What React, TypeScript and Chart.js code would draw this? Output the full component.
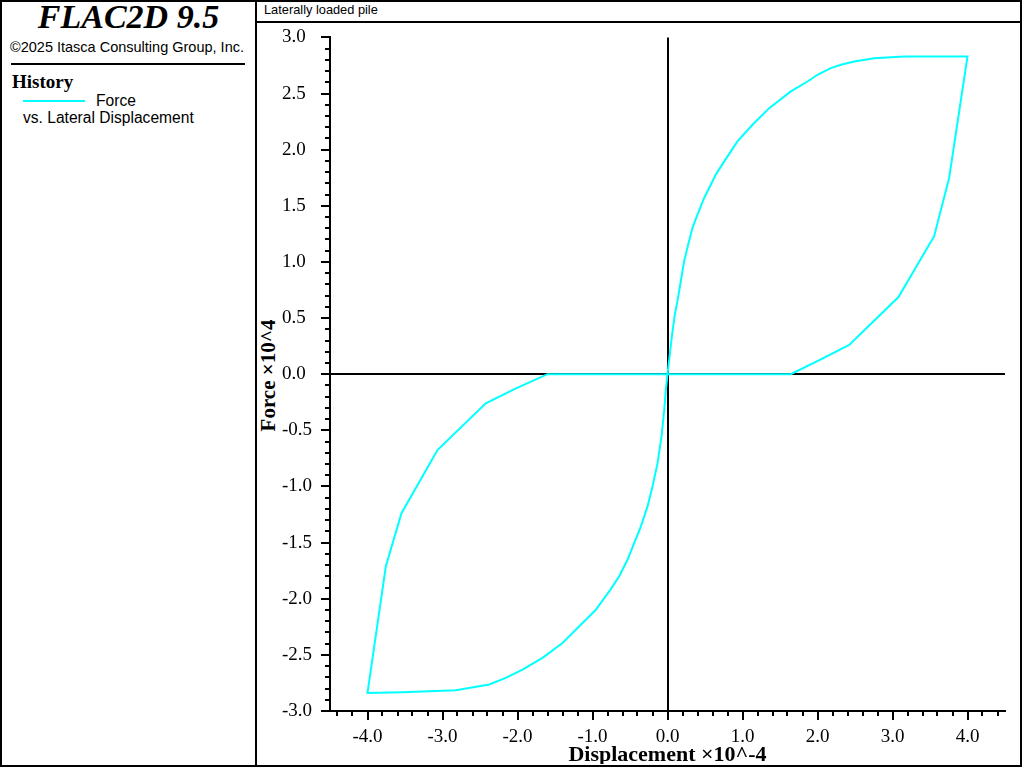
import React, { useEffect, useRef } from "react";
import { Chart, registerables } from "chart.js";

Chart.register(...registerables);

const SERIF = "'Liberation Serif', 'Times New Roman', Times, serif";
const SANS = "'Liberation Sans', Arial, sans-serif";
const CYAN = "#00FFFF";

Chart.defaults.font.family = SERIF;
Chart.defaults.color = "#000";

// Lateral displacement (x 10^-4) and force (x 10^4), in path order
const displacement = [
  0, 0.031, 0.062, 0.098, 0.133, 0.178, 0.222, 0.276, 0.333, 0.4, 0.489, 0.6, 0.644, 0.756, 0.933, 1.133,
  1.356, 1.644, 1.867, 2.0, 2.178, 2.311, 2.489, 2.755, 3.155, 4.0,
  3.755, 3.555, 3.08, 2.422, 2.044, 1.644,
  0,
  -0.022, -0.044, -0.08, -0.133, -0.2, -0.267, -0.356, -0.444, -0.533, -0.644, -0.756, -0.956, -1.133, -1.4,
  -1.667, -1.933, -2.156, -2.378, -2.822, -3.533, -4.0,
  -3.756, -3.547, -3.067, -2.423, -2.02, -1.6,
  0,
];
const force = [
  0, 0.178, 0.356, 0.533, 0.652, 0.83, 1.007, 1.156, 1.304, 1.422, 1.57, 1.719, 1.778, 1.896, 2.074, 2.222,
  2.37, 2.519, 2.607, 2.667, 2.726, 2.756, 2.785, 2.815, 2.83, 2.83,
  1.748, 1.229, 0.687, 0.26, 0.133, 0,
  0,
  -0.142, -0.32, -0.557, -0.794, -1.0, -1.18, -1.357, -1.505, -1.653, -1.8, -1.914, -2.098, -2.216, -2.394,
  -2.527, -2.631, -2.705, -2.764, -2.815, -2.833, -2.84,
  -1.713, -1.238, -0.676, -0.26, -0.127, 0,
  0,
];

const xTickValues = [-4, -3, -2, -1, 0, 1, 2, 3, 4];
const yTickValues = [-3, -2.5, -2, -1.5, -1, -0.5, 0, 0.5, 1, 1.5, 2, 2.5, 3];
const xRange = [-4.5, 4.5];
const yRange = [-3, 3];

const chartTitle = "Laterally loaded pile";
const xTitle = "Displacement \u00d710^-4";
const yTitle = "Force \u00d710^4";
const seriesName = "Force";
const seriesSub = "vs. Lateral Displacement";

const axisDecor = {
  id: "axisDecor",
  beforeDatasetsDraw(chart: any) {
    const { ctx, chartArea, scales } = chart;
    const x0 = Math.round(scales.x.getPixelForValue(0));
    const y0 = Math.round(scales.y.getPixelForValue(0));
    ctx.save();
    ctx.strokeStyle = "#000";
    ctx.lineWidth = 2;
    ctx.beginPath();
    ctx.moveTo(x0, chartArea.top);
    ctx.lineTo(x0, chartArea.bottom);
    ctx.moveTo(chartArea.left, y0);
    ctx.lineTo(chartArea.right, y0);
    ctx.stroke();
    ctx.restore();
  },
  afterDraw(chart: any) {
    const { ctx, chartArea, scales } = chart;
    ctx.save();
    ctx.strokeStyle = "#000";
    ctx.lineWidth = 2;
    ctx.beginPath();
    for (let i = -22; i <= 22; i++) {
      const px = Math.round(scales.x.getPixelForValue(i * 0.2));
      const len = i % 5 === 0 ? 9 : 5;
      ctx.moveTo(px, chartArea.bottom);
      ctx.lineTo(px, chartArea.bottom + len);
    }
    for (let i = -30; i <= 30; i++) {
      const py = Math.round(scales.y.getPixelForValue(i * 0.1));
      const len = i % 5 === 0 ? 9 : 5;
      ctx.moveTo(chartArea.left, py);
      ctx.lineTo(chartArea.left - len, py);
    }
    ctx.stroke();
    ctx.restore();
  },
};

function PileChart() {
  const ref = useRef<HTMLCanvasElement | null>(null);
  useEffect(() => {
    if (!ref.current) return;
    const tickFont = { family: SERIF, size: 19, lineHeight: 1.2, weight: "normal" };
    const chart = new Chart(ref.current, {
      type: "scatter",
      data: {
        datasets: [
          {
            label: seriesName,
            data: displacement.map((x, i) => ({ x, y: force[i] })),
            borderColor: CYAN,
            backgroundColor: CYAN,
            borderWidth: 2,
            pointRadius: 0,
            showLine: true,
            fill: false,
            tension: 0,
          },
        ],
      },
      options: {
        animation: false,
        responsive: false,
        events: [],
        font: { family: SERIF },
        layout: { padding: { left: 0, top: 13, right: 14, bottom: 0 } },
        plugins: { legend: { display: false }, tooltip: { enabled: false } },
        scales: {
          x: {
            type: "linear",
            min: xRange[0],
            max: xRange[1],
            grid: { display: false },
            border: { display: true, color: "#000", width: 2 },
            afterBuildTicks: (s: any) => {
              s.ticks = xTickValues.map((v) => ({ value: v }));
            },
            afterFit: (s: any) => {
              s.height = 53;
            },
            ticks: {
              autoSkip: false,
              maxRotation: 0,
              minRotation: 0,
              padding: 7,
              color: "#000",
              font: tickFont,
              callback: (v: any) => Number(v).toFixed(1),
            },
            title: {
              display: true,
              text: xTitle,
              color: "#000",
              font: { family: SERIF, size: 22, weight: "bold", lineHeight: 1 },
              padding: { top: 0, bottom: -2 },
            },
          },
          y: {
            type: "linear",
            min: yRange[0],
            max: yRange[1],
            grid: { display: false },
            border: { display: true, color: "#000", width: 2 },
            afterBuildTicks: (s: any) => {
              s.ticks = yTickValues.map((v) => ({ value: v }));
            },
            afterFit: (s: any) => {
              s.width = 48;
            },
            ticks: {
              autoSkip: false,
              crossAlign: "far",
              color: "#000",
              font: tickFont,
              callback: (v: any) => Number(v).toFixed(1),
            },
          },
        },
      } as any,
      plugins: [axisDecor],
    });
    return () => chart.destroy();
  }, []);
  return (
    <canvas
      ref={ref}
      width={737}
      height={741}
      style={{ position: "absolute", left: 282, top: 23, width: 737, height: 741 }}
    />
  );
}

const abs = (s: React.CSSProperties): React.CSSProperties => ({ position: "absolute", margin: 0, padding: 0, whiteSpace: "nowrap", ...s });

export default function App() {
  return (
    <div style={{ position: "absolute", left: 0, top: 0, width: 1024, height: 768, background: "#fff", overflow: "hidden" }}>
      {/* frame */}
      <div style={abs({ left: 0, top: 0, width: 1022, height: 767, border: "2px solid #000", boxSizing: "border-box" })} />
      <div style={abs({ left: 255, top: 0, width: 2, height: 767, background: "#000" })} />
      <div style={abs({ left: 255, top: 21, width: 767, height: 2, background: "#000" })} />

      {/* left panel */}
      <div style={abs({ left: 0, top: 0, width: 257, textAlign: "center", fontFamily: SERIF, fontWeight: "bold", fontStyle: "italic", fontSize: 34, lineHeight: "34px" })}>
        FLAC2D 9.5
      </div>
      <div style={abs({ left: 0, top: 39.5, width: 254, textAlign: "center", fontFamily: SANS, fontSize: 14.5, lineHeight: "14.5px" })}>
        ©2025 Itasca Consulting Group, Inc.
      </div>
      <div style={abs({ left: 11, top: 63, width: 234, height: 2, background: "#000" })} />
      <div style={abs({ left: 12, top: 72.4, fontFamily: SERIF, fontWeight: "bold", fontSize: 19, lineHeight: "19px" })}>History</div>
      <div style={abs({ left: 23, top: 100, width: 62, height: 2, background: CYAN })} />
      <div style={abs({ left: 96, top: 92.8, fontFamily: SANS, fontSize: 15.6, lineHeight: "15.6px" })}>{seriesName}</div>
      <div style={abs({ left: 23, top: 109.5, fontFamily: SANS, fontSize: 15.6, lineHeight: "15.6px" })}>{seriesSub}</div>

      {/* header */}
      <div style={abs({ left: 264, top: 4, fontFamily: SANS, fontSize: 12.8, lineHeight: "12.8px" })}>{chartTitle}</div>

      <PileChart />

      {/* y-axis title */}
      <div
        style={abs({
          left: 168,
          top: 364.5,
          width: 200,
          height: 21,
          textAlign: "center",
          fontFamily: SERIF,
          fontWeight: "bold",
          fontSize: 21,
          lineHeight: "21px",
          transform: "rotate(-90deg)",
        })}
      >
        {yTitle}
      </div>
    </div>
  );
}
